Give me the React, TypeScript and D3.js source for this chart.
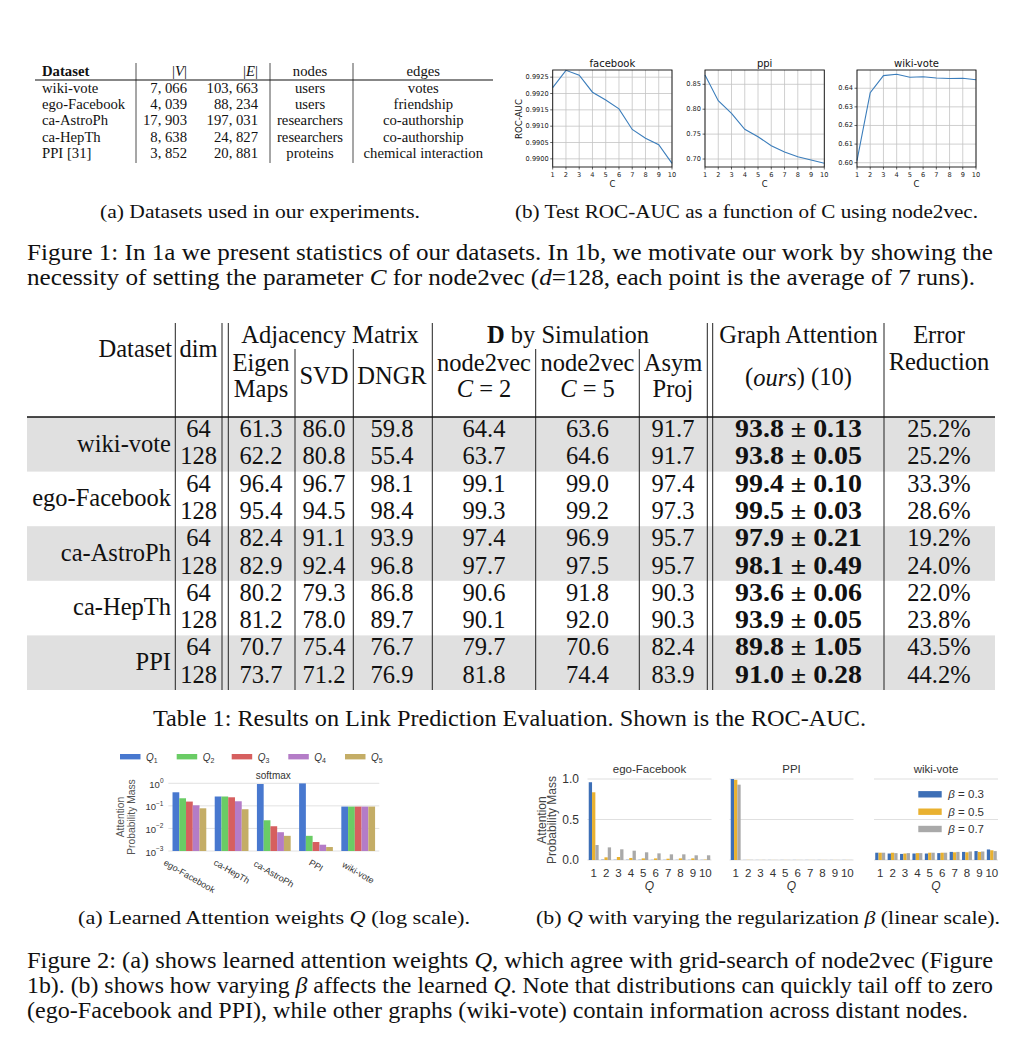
import * as d3 from 'd3';

const SERIF = '"Liberation Serif", "Times New Roman", serif';
const MPL = '"DejaVu Sans", sans-serif';
const ARIAL = '"Liberation Sans", Arial, sans-serif';

// ---- Figure 1a: dataset statistics
const dsNames = ['wiki-vote', 'ego-Facebook', 'ca-AstroPh', 'ca-HepTh', 'PPI [31]'];
const dsNodes = ['7, 066', '4, 039', '17, 903', '8, 638', '3, 852'];
const dsEdges = ['103, 663', '88, 234', '197, 031', '24, 827', '20, 881'];
const dsNodeType = ['users', 'users', 'researchers', 'researchers', 'proteins'];
const dsEdgeType = ['votes', 'friendship', 'co-authorship', 'co-authorship', 'chemical interaction'];

// ---- Figure 1b: ROC-AUC vs C
const cValues = [1, 2, 3, 4, 5, 6, 7, 8, 9, 10];
const fbAuc = [0.99218, 0.99271, 0.99256, 0.99204, 0.9918, 0.99153, 0.9909, 0.99063, 0.99043, 0.98986];
const ppiAuc = [0.8687, 0.817, 0.7918, 0.7596, 0.7448, 0.7268, 0.7141, 0.7046, 0.698, 0.6914];
const wikiAuc = [0.6011, 0.6376, 0.6468, 0.6475, 0.6459, 0.6462, 0.6455, 0.6452, 0.6454, 0.6446];
const fbTicks = [0.99, 0.9905, 0.991, 0.9915, 0.992, 0.9925];
const ppiTicks = [0.7, 0.75, 0.8, 0.85];
const wikiTicks = [0.6, 0.61, 0.62, 0.63, 0.64];

// ---- Table 1
const tDatasets = ['wiki-vote', 'ego-Facebook', 'ca-AstroPh', 'ca-HepTh', 'PPI'];
const tDims = ['64', '128'];
const eigenMaps = [61.3, 62.2, 96.4, 95.4, 82.4, 82.9, 80.2, 81.2, 70.7, 73.7];
const svdVals = [86.0, 80.8, 96.7, 94.5, 91.1, 92.4, 79.3, 78.0, 75.4, 71.2];
const dngrVals = [59.8, 55.4, 98.1, 98.4, 93.9, 96.8, 86.8, 89.7, 76.7, 76.9];
const n2vC2 = [64.4, 63.7, 99.1, 99.3, 97.4, 97.7, 90.6, 90.1, 79.7, 81.8];
const n2vC5 = [63.6, 64.6, 99.0, 99.2, 96.9, 97.5, 91.8, 92.0, 70.6, 74.4];
const asymProj = [91.7, 91.7, 97.4, 97.3, 95.7, 95.7, 90.3, 90.3, 82.4, 83.9];
const oursMean = [93.8, 93.8, 99.4, 99.5, 97.9, 98.1, 93.6, 93.9, 89.8, 91.0];
const oursStd = ['0.13', '0.05', '0.10', '0.03', '0.21', '0.49', '0.06', '0.05', '1.05', '0.28'];
const errReduction = ['25.2%', '25.2%', '33.3%', '28.6%', '19.2%', '24.0%', '22.0%', '23.8%', '43.5%', '44.2%'];

// ---- Figure 2a: softmax attention weights (log)
const qGroups = ['ego-Facebook', 'ca-HepTh', 'ca-AstroPh', 'PPI', 'wiki-vote'];
const qNames = ['1', '2', '3', '4', '5'];
const q1 = [0.4, 0.26, 0.93, 0.99, 0.093];
const q2 = [0.217, 0.26, 0.023, 0.0047, 0.093];
const q3 = [0.155, 0.24, 0.0125, 0.0025, 0.093];
const q4 = [0.106, 0.16, 0.0068, 0.0019, 0.093];
const q5 = [0.078, 0.071, 0.0047, 0.0015, 0.093];
const qColors = ['#4878CF', '#6ACC65', '#D65F5F', '#B47CC7', '#C4AD66'];
const logTicks = [1, 0.1, 0.01, 0.001];

// ---- Figure 2b: Q for varying beta
const qIndex = [1, 2, 3, 4, 5, 6, 7, 8, 9, 10];
const betas = ['0.3', '0.5', '0.7'];
const betaColors = ['#3d6fb6', '#e9b130', '#a9a9a9'];
const egoB3 = [0.96, 0.004, 0.003, 0.003, 0.003, 0.002, 0.002, 0.002, 0.002, 0.002];
const egoB5 = [0.836, 0.033, 0.037, 0.025, 0.02, 0.02, 0.016, 0.02, 0.02, 0.005];
const egoB7 = [0.185, 0.156, 0.132, 0.115, 0.095, 0.082, 0.07, 0.07, 0.058, 0.058];
const ppiB3 = [1.0, 0.001, 0.001, 0.001, 0.001, 0.001, 0.001, 0.001, 0.001, 0.001];
const ppiB5 = [0.99, 0.002, 0.001, 0.001, 0.001, 0.001, 0.001, 0.001, 0.001, 0.001];
const ppiB7 = [0.93, 0.002, 0.002, 0.001, 0.001, 0.001, 0.001, 0.001, 0.001, 0.001];
const wikiB3 = [0.09, 0.08, 0.075, 0.08, 0.08, 0.085, 0.1, 0.1, 0.11, 0.13];
const wikiB5 = [0.09, 0.09, 0.08, 0.085, 0.09, 0.09, 0.095, 0.095, 0.1, 0.12];
const wikiB7 = [0.09, 0.085, 0.085, 0.085, 0.09, 0.09, 0.1, 0.105, 0.105, 0.11];
const betaTicks = [0, 0.5, 1.0];

function LineChart({ title, values, ticks, domain, fmt, x0, x1, yLabel }: any) {
  const y0 = 70, y1 = 167;
  const x = d3.scaleLinear().domain([1, 10]).range([x0, x1]);
  const y = d3.scaleLinear().domain(domain).range([y1, y0]);
  const line = d3.line<number>().x((_, i) => x(cValues[i])).y(d => y(d));
  return (
    <g fontFamily={MPL}>
      {cValues.map(c => (
        <g key={'x' + c}>
          <line x1={x(c)} x2={x(c)} y1={y0} y2={y1} stroke="#c4c4c4" strokeWidth={0.8} />
          <line x1={x(c)} x2={x(c)} y1={y1} y2={y1 + 2.5} stroke="#000" strokeWidth={0.6} />
          <text x={x(c)} y={y1 + 8} fontSize={6.6} textAnchor="middle" dominantBaseline="central" fill="#222">{c}</text>
        </g>
      ))}
      {ticks.map((t: number) => (
        <g key={'y' + t}>
          <line x1={x0} x2={x1} y1={y(t)} y2={y(t)} stroke="#c4c4c4" strokeWidth={0.8} />
          <line x1={x0 - 2.5} x2={x0} y1={y(t)} y2={y(t)} stroke="#000" strokeWidth={0.6} />
          <text x={x0 - 4} y={y(t)} fontSize={6.6} textAnchor="end" dominantBaseline="central" fill="#222">{d3.format(fmt)(t)}</text>
        </g>
      ))}
      <path d={line(values) || ''} fill="none" stroke="#3b7dbb" strokeWidth={1.1} />
      <rect x={x0} y={y0} width={x1 - x0} height={y1 - y0} fill="none" stroke="#111" strokeWidth={0.9} />
      <text x={(x0 + x1) / 2} y={63} fontSize={10} textAnchor="middle" dominantBaseline="central" fill="#111">{title}</text>
      <text x={(x0 + x1) / 2} y={184} fontSize={8.4} textAnchor="middle" dominantBaseline="central" fill="#111">C</text>
      {yLabel && (
        <text transform={`translate(519,119) rotate(-90)`} fontSize={8.6} textAnchor="middle" dominantBaseline="central" fill="#111">{yLabel}</text>
      )}
    </g>
  );
}

function Fig2a() {
  const x0 = 168.3, x1 = 379.3;
  const x = d3.scaleBand<string>().domain(qGroups).range([x0, x1]).paddingInner(0.2).paddingOuter(0.1);
  const xq = d3.scaleBand<string>().domain(qNames).range([0, x.bandwidth()]);
  const y = d3.scaleLog().domain([1e-3, 1]).range([851, 783.3]);
  const series = [q1, q2, q3, q4, q5];
  const legendX = [120, 176.7, 231.7, 288.3, 345];
  return (
    <g fontFamily={ARIAL}>
      {logTicks.map((t, i) => (
        <g key={t}>
          <line x1={x0} x2={x1} y1={y(t)} y2={y(t)} stroke="#e2e2e2" strokeWidth={1} />
          <text x={163.5} y={y(t) + 1} fontSize={9.5} textAnchor="end" dominantBaseline="central" fill="#333">
            10<tspan fontSize={6.5} dy={-4}>{i === 0 ? '0' : '\u2212' + i}</tspan>
          </text>
        </g>
      ))}
      {qGroups.map((g, gi) => (
        <g key={g}>
          {series.map((s, si) => (
            <rect key={si} x={(x(g) || 0) + (xq(qNames[si]) || 0)} width={xq.bandwidth()}
              y={y(s[gi])} height={851 - y(s[gi])} fill={qColors[si]} />
          ))}
        </g>
      ))}
      {qGroups.map(g => {
        const L = g.length * 4.8;
        const cx = (x(g) || 0) + x.bandwidth() / 2;
        const cy = 858 + (L * 0.5 + 9 * 0.87) / 2;
        return (
          <text key={'l' + g} transform={`translate(${cx},${cy}) rotate(30)`} fontSize={9} textAnchor="middle" dominantBaseline="central" fill="#333">{g}</text>
        );
      })}
      <text x={273.3} y={775.5} fontSize={10} textAnchor="middle" dominantBaseline="central" fill="#333">softmax</text>
      <text transform="translate(120,817) rotate(-90)" fontSize={10.3} textAnchor="middle" dominantBaseline="central" fill="#555">Attention</text>
      <text transform="translate(131.5,817) rotate(-90)" fontSize={10.3} textAnchor="middle" dominantBaseline="central" fill="#555">Probability Mass</text>
      {qNames.map((q, i) => (
        <g key={'leg' + q}>
          <rect x={legendX[i]} y={754} width={20.5} height={5.4} fill={qColors[i]} />
          <text x={legendX[i] + 26} y={757} fontSize={10} dominantBaseline="central" fill="#333">
            <tspan fontStyle="italic">Q</tspan><tspan fontSize={7} dy={2.5}>{q}</tspan>
          </text>
        </g>
      ))}
    </g>
  );
}

function BetaPanel({ title, series, x0, x1, showY, showLegend }: any) {
  const x = d3.scaleBand<number>().domain(qIndex).range([x0, x1]).paddingInner(0.2).paddingOuter(0.1);
  const xb = d3.scaleBand<string>().domain(betas).range([0, x.bandwidth()]);
  const y = d3.scaleLinear().domain([0, 1]).range([860, 779]);
  const legY = [794.3, 811.7, 829];
  return (
    <g fontFamily={ARIAL}>
      {betaTicks.map(t => (
        <line key={t} x1={x0} x2={x1} y1={y(t)} y2={y(t)} stroke="#e0e0e0" strokeWidth={1.2} />
      ))}
      {showY && betaTicks.map(t => (
        <text key={'t' + t} x={x0 - 8.5} y={y(t)} fontSize={12} textAnchor="end" dominantBaseline="central" fill="#333">{d3.format('.1f')(t)}</text>
      ))}
      {qIndex.map((q, qi) => (
        <g key={q}>
          {series.map((s: number[], bi: number) => (
            <rect key={bi} x={(x(q) || 0) + (xb(betas[bi]) || 0)} width={xb.bandwidth()}
              y={y(s[qi])} height={860 - y(s[qi])} fill={betaColors[bi]} />
          ))}
          <text x={(x(q) || 0) + x.bandwidth() / 2} y={872.5} fontSize={11.5} textAnchor="middle" dominantBaseline="central" fill="#333">{q}</text>
        </g>
      ))}
      <text x={(x0 + x1) / 2} y={769} fontSize={11.5} textAnchor="middle" dominantBaseline="central" fill="#333">{title}</text>
      <text x={(x0 + x1) / 2} y={886} fontSize={12} fontStyle="italic" textAnchor="middle" dominantBaseline="central" fill="#333">Q</text>
      {showY && (
        <g>
          <text transform="translate(541.5,820) rotate(-90)" fontSize={12} textAnchor="middle" dominantBaseline="central" fill="#444">Attention</text>
          <text transform="translate(552,820) rotate(-90)" fontSize={12} textAnchor="middle" dominantBaseline="central" fill="#444">Probability Mass</text>
        </g>
      )}
      {showLegend && betas.map((b, i) => (
        <g key={'leg' + b}>
          <rect x={918.3} y={legY[i] - 3.2} width={23.4} height={6.4} fill={betaColors[i]} />
          <text x={948.3} y={legY[i]} fontSize={11.5} dominantBaseline="central" fill="#333">
            <tspan fontStyle="italic">{'\u03b2'}</tspan>{' = ' + b}
          </text>
        </g>
      ))}
    </g>
  );
}

function Table1a() {
  const rowY = (i: number) => 87.5 + i * 16.4;
  const fs = 14.7;
  return (
    <g fontFamily={SERIF} fontSize={fs} fill="#111">
      <line x1={35} x2={493} y1={80} y2={80} stroke="#111" strokeWidth={1.1} />
      {[136, 270, 353].map(vx => (
        <line key={vx} x1={vx} x2={vx} y1={63} y2={163} stroke="#222" strokeWidth={0.8} />
      ))}
      <text x={42} y={70.5} fontWeight="bold" dominantBaseline="central">Dataset</text>
      <text x={187} y={70.5} textAnchor="end" dominantBaseline="central">|<tspan fontStyle="italic">V</tspan>|</text>
      <text x={258} y={70.5} textAnchor="end" dominantBaseline="central">|<tspan fontStyle="italic">E</tspan>|</text>
      <text x={310} y={70.5} textAnchor="middle" dominantBaseline="central">nodes</text>
      <text x={423.3} y={70.5} textAnchor="middle" dominantBaseline="central">edges</text>
      {dsNames.map((n, i) => (
        <g key={n}>
          <text x={42} y={rowY(i)} dominantBaseline="central">{n}</text>
          <text x={187} y={rowY(i)} textAnchor="end" dominantBaseline="central">{dsNodes[i]}</text>
          <text x={258} y={rowY(i)} textAnchor="end" dominantBaseline="central">{dsEdges[i]}</text>
          <text x={310} y={rowY(i)} textAnchor="middle" dominantBaseline="central">{dsNodeType[i]}</text>
          <text x={423.3} y={rowY(i)} textAnchor="middle" dominantBaseline="central">{dsEdgeType[i]}</text>
        </g>
      ))}
    </g>
  );
}

function Table1() {
  const fs = 24.5;
  const rowC = (r: number) => 428.5 + r * 27.3;
  const bandH = 54.6;
  const vlines: [number, number][] = [
    [175.3, 323], [222, 323], [228.3, 323], [295, 349], [353.3, 349], [432.3, 323],
    [535.7, 349], [639.3, 349], [707.3, 323], [712.7, 323], [884, 323],
  ];
  const cols: [number[], number][] = [
    [eigenMaps, 261], [svdVals, 324], [dngrVals, 392], [n2vC2, 484], [n2vC5, 587.5], [asymProj, 673],
  ];
  const rows = d3.range(10);
  return (
    <g fontFamily={SERIF} fontSize={fs} fill="#111">
      {tDatasets.map((d, k) => (
        k % 2 === 0 ? <rect key={d} x={27} y={417 + k * bandH} width={968} height={bandH} fill="#e0e0e0" /> : null
      ))}
      {vlines.map(([vx, vt]) => (
        <line key={vx} x1={vx} x2={vx} y1={vt} y2={690} stroke="#222" strokeWidth={1} />
      ))}
      <line x1={27} x2={995} y1={417} y2={417} stroke="#111" strokeWidth={1.5} />
      <g dominantBaseline="central">
        <text x={172} y={348} textAnchor="end">Dataset</text>
        <text x={198.5} y={348} textAnchor="middle">dim</text>
        <text x={330} y={334} textAnchor="middle">Adjacency Matrix</text>
        <text x={261} y={362.7} textAnchor="middle">Eigen</text>
        <text x={261} y={388.3} textAnchor="middle">Maps</text>
        <text x={324} y={375.7} textAnchor="middle">SVD</text>
        <text x={392} y={375.7} textAnchor="middle">DNGR</text>
        <text x={568} y={334} textAnchor="middle"><tspan fontWeight="bold">D</tspan> by Simulation</text>
        <text x={484} y={362.7} textAnchor="middle">node2vec</text>
        <text x={484} y={388.3} textAnchor="middle"><tspan fontStyle="italic">C</tspan> = 2</text>
        <text x={587.5} y={362.7} textAnchor="middle">node2vec</text>
        <text x={587.5} y={388.3} textAnchor="middle"><tspan fontStyle="italic">C</tspan> = 5</text>
        <text x={673} y={362.7} textAnchor="middle">Asym</text>
        <text x={673} y={388.3} textAnchor="middle">Proj</text>
        <text x={798.5} y={334} textAnchor="middle">Graph Attention</text>
        <text x={798.5} y={376.7} textAnchor="middle">(<tspan fontStyle="italic">ours</tspan>) (10)</text>
        <text x={939} y={334} textAnchor="middle">Error</text>
        <text x={939} y={361.7} textAnchor="middle">Reduction</text>
      </g>
      <g dominantBaseline="central">
        {tDatasets.map((d, k) => (
          <text key={d} x={171} y={(rowC(2 * k) + rowC(2 * k + 1)) / 2 + 1} textAnchor="end">{d}</text>
        ))}
        {rows.map(r => (
          <g key={r}>
            <text x={198.5} y={rowC(r)} textAnchor="middle">{tDims[r % 2]}</text>
            {cols.map(([vals, cx], ci) => (
              <text key={ci} x={cx} y={rowC(r)} textAnchor="middle">{vals[r].toFixed(1)}</text>
            ))}
            <text x={735} y={rowC(r)} fontWeight="bold" textLength={127} lengthAdjust="spacingAndGlyphs">{oursMean[r].toFixed(1) + ' \u00b1 ' + oursStd[r]}</text>
            <text x={939} y={rowC(r)} textAnchor="middle">{errReduction[r]}</text>
          </g>
        ))}
      </g>
    </g>
  );
}

export default function App() {
  const capFs = 22.5;
  const subFs = 19.5;
  return (
    <svg width={1010} height={1044} style={{ position: 'absolute', left: 0, top: 0, background: '#fff' }}>
      <rect width={1010} height={1044} fill="#fff" />
      <Table1a />
      <LineChart title="facebook" values={fbAuc} ticks={fbTicks} domain={[0.98975, 0.99272]} fmt=".4f" x0={552.7} x1={672} yLabel="ROC-AUC" />
      <LineChart title="ppi" values={ppiAuc} ticks={ppiTicks} domain={[0.684, 0.8787]} fmt=".2f" x0={705} x1={824.3} />
      <LineChart title="wiki-vote" values={wikiAuc} ticks={wikiTicks} domain={[0.5977, 0.6498]} fmt=".2f" x0={857} x1={976} />

      <g fontFamily={SERIF} fill="#111" lengthAdjust="spacingAndGlyphs">
        <text x={100} y={218} fontSize={subFs} textLength={320} lengthAdjust="spacingAndGlyphs">(a) Datasets used in our experiments.</text>
        <text x={515} y={218} fontSize={subFs} textLength={463} lengthAdjust="spacingAndGlyphs">(b) Test ROC-AUC as a function of C using node2vec.</text>
        <text x={27} y={260} fontSize={capFs} textLength={966} lengthAdjust="spacingAndGlyphs">Figure 1: In 1a we present statistics of our datasets. In 1b, we motivate our work by showing the</text>
        <text x={27} y={285} fontSize={capFs} textLength={948} lengthAdjust="spacingAndGlyphs">necessity of setting the parameter <tspan fontStyle="italic">C</tspan> for node2vec (<tspan fontStyle="italic">d</tspan>=128, each point is the average of 7 runs).</text>
      </g>

      <Table1 />
      <text x={153} y={726} fontFamily={SERIF} fontSize={capFs} fill="#111" textLength={713} lengthAdjust="spacingAndGlyphs">Table 1: Results on Link Prediction Evaluation. Shown is the ROC-AUC.</text>

      <Fig2a />
      <BetaPanel title="ego-Facebook" series={[egoB3, egoB5, egoB7]} x0={587.5} x1={711.5} showY />
      <BetaPanel title="PPI" series={[ppiB3, ppiB5, ppiB7]} x0={729.5} x1={853.5} />
      <BetaPanel title="wiki-vote" series={[wikiB3, wikiB5, wikiB7]} x0={874} x1={998} showLegend />

      <g fontFamily={SERIF} fill="#111">
        <text x={78} y={924} fontSize={subFs} textLength={392} lengthAdjust="spacingAndGlyphs">(a) Learned Attention weights <tspan fontStyle="italic">Q</tspan> (log scale).</text>
        <text x={536} y={924} fontSize={subFs} textLength={464} lengthAdjust="spacingAndGlyphs">(b) <tspan fontStyle="italic">Q</tspan> with varying the regularization <tspan fontStyle="italic">{'\u03b2'}</tspan> (linear scale).</text>
        <text x={27} y={968} fontSize={capFs} textLength={966} lengthAdjust="spacingAndGlyphs">Figure 2: (a) shows learned attention weights <tspan fontStyle="italic">Q</tspan>, which agree with grid-search of node2vec (Figure</text>
        <text x={27} y={993} fontSize={capFs} textLength={966} lengthAdjust="spacingAndGlyphs">1b). (b) shows how varying <tspan fontStyle="italic">{'\u03b2'}</tspan> affects the learned <tspan fontStyle="italic">Q</tspan>. Note that distributions can quickly tail off to zero</text>
        <text x={27} y={1018} fontSize={capFs} textLength={941} lengthAdjust="spacingAndGlyphs">(ego-Facebook and PPI), while other graphs (wiki-vote) contain information across distant nodes.</text>
      </g>
    </svg>
  );
}
